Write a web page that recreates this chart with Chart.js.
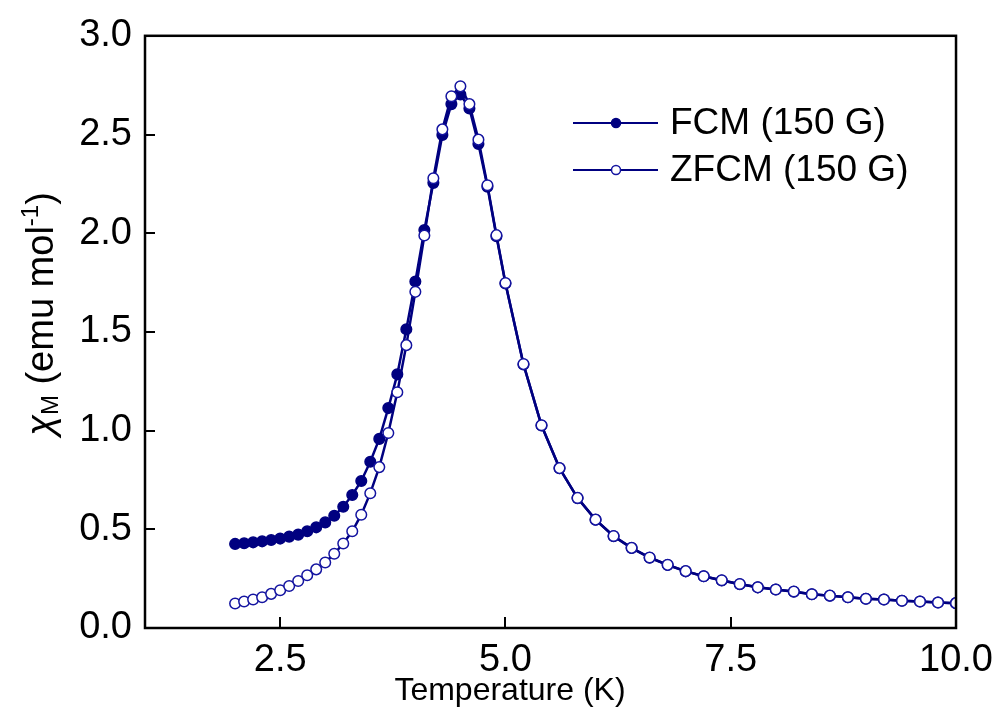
<!DOCTYPE html>
<html>
<head>
<meta charset="utf-8">
<script src="https://cdn.jsdelivr.net/npm/chart.js@4.4.1/dist/chart.umd.min.js"></script>
<style>
  html, body { margin: 0; padding: 0; background: #fff; }
</style>
</head>
<body>
<canvas id="chi-chart" width="1003" height="724"></canvas>
<script>
// Temperature (K) of each measured point
const temps = [
  2.0, 2.1, 2.2, 2.3, 2.4, 2.5, 2.6, 2.7, 2.8, 2.9,
  3.0, 3.1, 3.2, 3.3, 3.4, 3.5, 3.6, 3.7, 3.8, 3.9,
  4.0, 4.1, 4.2, 4.3, 4.4, 4.5, 4.6, 4.7, 4.8, 4.9,
  5.0, 5.2, 5.4, 5.6, 5.8, 6.0, 6.2, 6.4, 6.6, 6.8,
  7.0, 7.2, 7.4, 7.6, 7.8, 8.0, 8.2, 8.4, 8.6, 8.8,
  9.0, 9.2, 9.4, 9.6, 9.8, 10.0
];

// field-cooled magnetisation (150 G)
const fcmValues = [
  0.426, 0.429, 0.434, 0.439, 0.446, 0.453, 0.463, 0.473, 0.490, 0.510,
  0.535, 0.569, 0.614, 0.674, 0.745, 0.842, 0.958, 1.114, 1.285, 1.513,
  1.755, 2.016, 2.255, 2.498, 2.654, 2.703, 2.632, 2.452, 2.235, 1.985,
  1.745, 1.335, 1.026, 0.809, 0.658, 0.548, 0.465, 0.405, 0.356, 0.319,
  0.287, 0.262, 0.241, 0.222, 0.206, 0.195, 0.184, 0.171, 0.163, 0.156,
  0.148, 0.144, 0.138, 0.134, 0.129, 0.126
];

// zero-field-cooled magnetisation (150 G)
const zfcmValues = [
  0.124, 0.134, 0.144, 0.156, 0.173, 0.191, 0.213, 0.238, 0.267, 0.297,
  0.332, 0.376, 0.428, 0.490, 0.574, 0.683, 0.815, 0.988, 1.194, 1.433,
  1.703, 1.988, 2.278, 2.526, 2.694, 2.744, 2.654, 2.474, 2.243, 1.990,
  1.748, 1.337, 1.027, 0.810, 0.659, 0.549, 0.466, 0.406, 0.357, 0.320,
  0.288, 0.262, 0.242, 0.223, 0.206, 0.195, 0.185, 0.171, 0.164, 0.156,
  0.148, 0.144, 0.138, 0.134, 0.129, 0.126
];

const xTickValues = [2.5, 5.0, 7.5, 10.0];
const yTickValues = [0.0, 0.5, 1.0, 1.5, 2.0, 2.5, 3.0];

const seriesNames = ['FCM (150 G)', 'ZFCM (150 G)'];

const FONT = "'Liberation Sans', Arial, sans-serif";
const NAVY = '#000080';
const OPEN_EDGE = '#1414a0';

function toPoints(values) {
  return temps.map((t, i) => ({ x: t, y: values[i] }));
}

// frame, inward ticks, axis titles and legend
const decorations = {
  id: 'decorations',
  afterDraw(chart) {
    const ctx = chart.ctx;
    const area = chart.chartArea;
    const xs = chart.scales.x;
    const ys = chart.scales.y;

    ctx.save();
    ctx.strokeStyle = '#000';
    ctx.lineWidth = 2.5;
    ctx.strokeRect(area.left, area.top, area.right - area.left, area.bottom - area.top);

    ctx.lineWidth = 2;
    ctx.beginPath();
    xTickValues.forEach(v => {
      const px = Math.round(xs.getPixelForValue(v));
      ctx.moveTo(px, area.bottom);
      ctx.lineTo(px, area.bottom - 11);
    });
    yTickValues.forEach(v => {
      const py = Math.round(ys.getPixelForValue(v));
      ctx.moveTo(area.left, py);
      ctx.lineTo(area.left + 10, py);
    });
    ctx.stroke();

    // x title
    ctx.fillStyle = '#000';
    ctx.font = '32px ' + FONT;
    ctx.textAlign = 'center';
    ctx.textBaseline = 'middle';
    ctx.fillText('Temperature (K)', 510, 691);

    // y title, rotated, with chi_M and mol^-1
    const parts = [
      { t: '\u03C7', font: 'italic 38px ' + FONT, dy: 0 },
      { t: 'M', font: '24px ' + FONT, dy: 5 },
      { t: ' (emu mol', font: '38px ' + FONT, dy: 0 },
      { t: '-1', font: '24px ' + FONT, dy: -15 },
      { t: ')', font: '38px ' + FONT, dy: 0 }
    ];
    ctx.textAlign = 'left';
    ctx.textBaseline = 'alphabetic';
    let total = 0;
    parts.forEach(p => {
      ctx.font = p.font;
      p.w = ctx.measureText(p.t).width;
      total += p.w;
    });
    ctx.translate(53, 314);
    ctx.rotate(-Math.PI / 2);
    let cx = -total / 2;
    parts.forEach(p => {
      ctx.font = p.font;
      ctx.fillText(p.t, cx, p.dy);
      cx += p.w;
    });
    ctx.setTransform(1, 0, 0, 1, 0, 0);

    // legend
    const rows = [
      { y: 123, fill: NAVY, edge: NAVY },
      { y: 170, fill: '#fff', edge: OPEN_EDGE }
    ];
    rows.forEach((r, i) => {
      ctx.strokeStyle = NAVY;
      ctx.lineWidth = 2;
      ctx.beginPath();
      ctx.moveTo(573, r.y);
      ctx.lineTo(658, r.y);
      ctx.stroke();
      ctx.beginPath();
      ctx.arc(616, r.y, 4.5, 0, Math.PI * 2);
      ctx.fillStyle = r.fill;
      ctx.fill();
      ctx.lineWidth = 1.5;
      ctx.strokeStyle = r.edge;
      ctx.stroke();
      ctx.fillStyle = '#000';
      ctx.font = '37px ' + FONT;
      ctx.textBaseline = 'middle';
      ctx.fillText(seriesNames[i], 670, r.y + 1);
    });
    ctx.restore();
  }
};

const chart = new Chart(document.getElementById('chi-chart'), {
  type: 'line',
  data: {
    datasets: [
      {
        label: seriesNames[0],
        data: toPoints(fcmValues),
        borderColor: NAVY,
        borderWidth: 2.5,
        pointRadius: 5.3,
        pointBackgroundColor: NAVY,
        pointBorderColor: NAVY,
        pointBorderWidth: 1.5,
        tension: 0,
        order: 2
      },
      {
        label: seriesNames[1],
        data: toPoints(zfcmValues),
        borderColor: NAVY,
        borderWidth: 2.5,
        pointRadius: 5.3,
        pointBackgroundColor: '#fff',
        pointBorderColor: OPEN_EDGE,
        pointBorderWidth: 1.5,
        tension: 0,
        order: 1
      }
    ]
  },
  options: {
    responsive: false,
    animation: false,
    devicePixelRatio: 1,
    layout: { padding: { top: 32, right: 45, left: 0, bottom: 0 } },
    plugins: {
      legend: { display: false },
      tooltip: { enabled: false }
    },
    scales: {
      x: {
        type: 'linear',
        min: 1.0,
        max: 10.0,
        grid: { display: false, drawTicks: false },
        border: { display: false },
        afterBuildTicks: (scale) => {
          scale.ticks = xTickValues.map(v => ({ value: v }));
        },
        afterFit: (scale) => { scale.height = 96; },
        ticks: {
          padding: 10,
          maxRotation: 0,
          color: '#000',
          font: { family: FONT, size: 38 },
          callback: (v) => Number(v).toFixed(1)
        }
      },
      y: {
        type: 'linear',
        min: 0,
        max: 3.0,
        grid: { display: false, drawTicks: false },
        border: { display: false },
        afterBuildTicks: (scale) => {
          scale.ticks = yTickValues.map(v => ({ value: v }));
        },
        afterFit: (scale) => { scale.width = 145; },
        ticks: {
          padding: 13,
          color: '#000',
          font: { family: FONT, size: 38 },
          callback: (v) => Number(v).toFixed(1)
        }
      }
    }
  },
  plugins: [decorations]
});
</script>
</body>
</html>
